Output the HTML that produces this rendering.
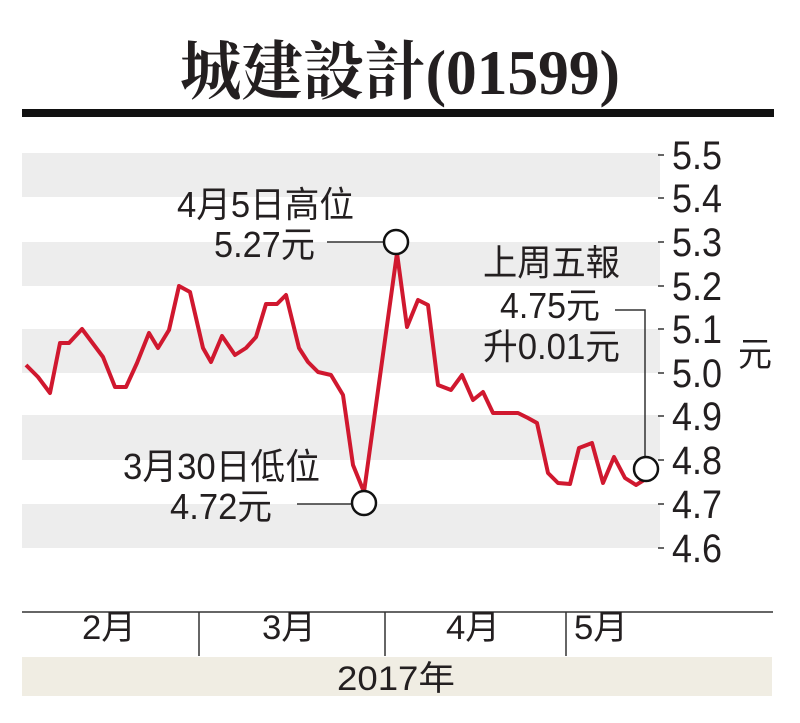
<!DOCTYPE html>
<html><head><meta charset="utf-8"><style>
html,body{margin:0;padding:0;background:#fff;}
svg{display:block;}
text{font-family:"Liberation Sans","Noto Sans CJK TC",sans-serif;fill:#231f20;}
</style></head><body>
<svg width="800" height="723" viewBox="0 0 800 723" xmlns="http://www.w3.org/2000/svg">
<rect width="800" height="723" fill="#fff"/>
<text x="400" y="94" text-anchor="middle" font-size="64" font-weight="bold" style="font-family:'Liberation Serif','Noto Serif CJK SC',serif" textLength="440" lengthAdjust="spacingAndGlyphs">城建設計(01599)</text>
<rect x="22" y="109" width="752" height="8" fill="#111"/>
<g fill="#ededed">
<rect x="22" y="153" width="638" height="44"/>
<rect x="22" y="242" width="638" height="44"/>
<rect x="22" y="329" width="638" height="44"/>
<rect x="22" y="415" width="638" height="45"/>
<rect x="22" y="504" width="638" height="44"/>
</g>
<g stroke="#333" stroke-width="1.5">
<line x1="658" y1="155" x2="664" y2="155"/><line x1="658" y1="198" x2="664" y2="198"/>
<line x1="658" y1="242" x2="664" y2="242"/><line x1="658" y1="286" x2="664" y2="286"/>
<line x1="658" y1="329" x2="664" y2="329"/><line x1="658" y1="373" x2="664" y2="373"/>
<line x1="658" y1="416" x2="664" y2="416"/><line x1="658" y1="460" x2="664" y2="460"/>
<line x1="658" y1="504" x2="664" y2="504"/><line x1="658" y1="548" x2="664" y2="548"/>
</g>
<g font-size="40">
<text x="672" y="169" textLength="50" lengthAdjust="spacingAndGlyphs">5.5</text>
<text x="672" y="212" textLength="50" lengthAdjust="spacingAndGlyphs">5.4</text>
<text x="672" y="256" textLength="50" lengthAdjust="spacingAndGlyphs">5.3</text>
<text x="672" y="300" textLength="50" lengthAdjust="spacingAndGlyphs">5.2</text>
<text x="672" y="343" textLength="50" lengthAdjust="spacingAndGlyphs">5.1</text>
<text x="672" y="387" textLength="50" lengthAdjust="spacingAndGlyphs">5.0</text>
<text x="672" y="430" textLength="50" lengthAdjust="spacingAndGlyphs">4.9</text>
<text x="672" y="474" textLength="50" lengthAdjust="spacingAndGlyphs">4.8</text>
<text x="672" y="518" textLength="50" lengthAdjust="spacingAndGlyphs">4.7</text>
<text x="672" y="562" textLength="50" lengthAdjust="spacingAndGlyphs">4.6</text>
<text x="738" y="366" font-size="34">元</text>
</g>
<polyline fill="none" stroke="#d0182f" stroke-width="4" stroke-linejoin="round" points="26,365 38,377 50,393 60,343 69,343 82,329 103,357 115,387 126,387 137,363 149,333 158,348 169,330 179,286 190,292 203,348 211,362 222,336 235,355 246,348 256,337 266,304 277,304 286,295 299,348 308,362 318,372 331,375 343,395 353,465 364,492 397,253 407,327 418,300 428,305 438,385 451,390 462,375 473,400 483,392 493,413 518,413 528,418 537,423 548,473 558,483 570,484 579,448 592,443 603,483 614,457 625,478 636,485 644,480"/>
<g stroke="#333" stroke-width="1.5" fill="none">
<line x1="327" y1="242" x2="384" y2="242"/>
<line x1="297" y1="504" x2="351" y2="504"/>
<polyline points="615,310 645,310 645,456"/>
</g>
<g fill="#fff" stroke="#111" stroke-width="2.5">
<circle cx="396" cy="242" r="12"/>
<circle cx="364" cy="503" r="12"/>
<circle cx="646" cy="469" r="12"/>
</g>
<g font-size="36">
<text x="177" y="217" textLength="177" lengthAdjust="spacingAndGlyphs">4月5日高位</text>
<text x="214" y="257" textLength="101" lengthAdjust="spacingAndGlyphs">5.27元</text>
<text x="483" y="275" textLength="137" lengthAdjust="spacingAndGlyphs">上周五報</text>
<text x="500" y="318" textLength="100" lengthAdjust="spacingAndGlyphs">4.75元</text>
<text x="483" y="359" textLength="137" lengthAdjust="spacingAndGlyphs">升0.01元</text>
<text x="123" y="479" textLength="197" lengthAdjust="spacingAndGlyphs">3月30日低位</text>
<text x="170" y="519" textLength="102" lengthAdjust="spacingAndGlyphs">4.72元</text>
</g>
<line x1="22" y1="612" x2="773" y2="612" stroke="#333" stroke-width="1.5"/>
<g stroke="#333" stroke-width="1.5">
<line x1="199" y1="612" x2="199" y2="656"/>
<line x1="385" y1="612" x2="385" y2="656"/>
<line x1="566" y1="612" x2="566" y2="656"/>
</g>
<g font-size="34">
<text x="82" y="639" textLength="54" lengthAdjust="spacingAndGlyphs">2月</text>
<text x="262" y="639" textLength="54" lengthAdjust="spacingAndGlyphs">3月</text>
<text x="446" y="639" textLength="54" lengthAdjust="spacingAndGlyphs">4月</text>
<text x="574" y="639" textLength="54" lengthAdjust="spacingAndGlyphs">5月</text>
</g>
<rect x="22" y="657" width="750" height="39" fill="#f0ede3"/>
<text x="337" y="690" font-size="34" textLength="118" lengthAdjust="spacingAndGlyphs">2017年</text>
</svg>
</body></html>
